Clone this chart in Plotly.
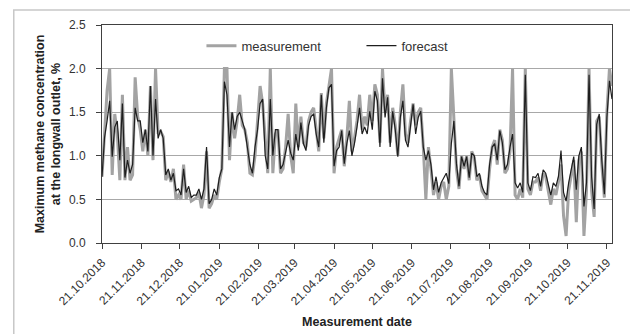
import pandas as pd
import plotly.graph_objects as go

start_date = "2018-10-21"
step_days = 2

forecast = [
    0.76, 1.21, 1.40, 1.63, 0.99, 1.33, 1.40, 0.95, 1.60, 0.75,
    0.95, 0.80, 0.90, 1.55, 1.40, 1.40, 1.15, 1.30, 1.05, 1.80,
    1.00, 1.65, 1.20, 1.30, 1.20, 0.78, 0.85, 0.72, 0.80, 0.60,
    0.62, 0.55, 0.85, 0.58, 0.65, 0.52, 0.55, 0.55, 0.62, 0.50,
    0.62, 1.10, 0.45, 0.50, 0.62, 0.55, 0.75, 0.85, 1.85, 1.70,
    1.10, 1.50, 1.30, 1.45, 1.50, 1.40, 1.30, 1.10, 0.90, 0.80,
    1.10, 1.30, 1.60, 1.65, 1.00, 0.85, 1.65, 1.00, 1.30, 1.30,
    0.85, 0.90, 1.06, 1.18, 1.03, 0.95, 1.25, 1.06, 1.38, 1.14,
    1.06, 1.35, 1.45, 1.48, 1.25, 1.10, 1.70, 1.15, 1.55, 1.78,
    1.82, 0.88, 1.06, 1.10, 1.29, 0.91, 1.14, 1.29, 1.00, 1.14,
    1.33, 1.55, 1.25, 1.33, 1.25, 1.51, 1.30, 1.74, 1.63, 1.10,
    1.89, 1.44, 1.67, 1.10, 1.51, 1.30, 0.99, 1.44, 1.63, 1.18,
    1.10, 1.32, 1.59, 1.25, 1.44, 1.51, 1.10, 0.95, 1.06, 0.90,
    0.61, 0.76, 0.58, 0.69, 0.75, 0.80, 0.68, 1.14, 1.40, 0.91,
    0.65, 0.99, 0.88, 0.99, 0.75, 1.03, 1.00, 0.76, 0.80, 0.65,
    0.58, 0.55, 0.90, 1.10, 1.14, 0.95, 1.29, 1.15, 0.84, 0.90,
    1.10, 1.25, 0.69, 0.63, 0.69, 0.58, 1.93, 0.69, 0.60, 0.76,
    0.75, 0.80, 0.65, 0.84, 0.80, 0.69, 0.55, 0.69, 0.65, 0.76,
    1.06, 0.58, 0.48, 0.69, 0.85, 0.99, 0.61, 1.00, 1.10, 0.42,
    0.69, 1.93, 0.76, 0.39, 1.36, 1.48, 0.95, 0.56, 1.44, 1.86,
    1.65,
]

measurement = [
    0.76, 1.25, 1.75, 2.00, 0.78, 1.48, 1.25, 0.72, 1.70, 0.72,
    1.10, 0.72, 0.78, 1.90, 1.45, 1.30, 1.05, 1.30, 1.00, 1.80,
    0.95, 2.00, 1.25, 1.28, 1.22, 0.72, 0.82, 0.70, 0.85, 0.50,
    0.55, 0.50, 0.90, 0.50, 0.60, 0.48, 0.50, 0.52, 0.58, 0.40,
    0.55, 1.05, 0.40, 0.45, 0.55, 0.50, 0.70, 0.85, 2.00, 2.00,
    0.95, 1.50, 1.20, 1.40, 1.70, 1.35, 1.30, 1.15, 0.80, 0.78,
    1.00, 1.40, 1.80, 1.60, 1.20, 0.80, 2.00, 0.80, 1.25, 1.30,
    0.80, 0.85, 1.10, 1.48, 1.00, 0.80, 1.60, 1.10, 1.45, 1.15,
    1.10, 1.40, 1.50, 1.55, 1.30, 1.05, 1.72, 1.20, 1.60, 1.80,
    2.00, 0.80, 1.10, 1.20, 1.30, 0.88, 1.20, 1.63, 1.05, 1.20,
    1.40, 1.70, 1.30, 1.45, 1.35, 1.70, 1.40, 1.82, 1.70, 1.15,
    2.00, 1.50, 1.70, 1.15, 1.55, 1.35, 1.00, 1.50, 1.82, 1.25,
    1.15, 1.40, 1.60, 1.35, 1.50, 1.55, 1.10, 0.50, 1.10, 0.85,
    0.55, 0.70, 0.50, 0.65, 0.70, 0.50, 0.65, 2.00, 1.35, 0.85,
    0.62, 1.00, 0.85, 1.00, 0.72, 1.05, 0.98, 0.72, 0.78, 0.60,
    0.55, 0.50, 0.85, 1.10, 1.18, 0.90, 1.30, 1.18, 0.80, 0.85,
    1.05, 2.00, 0.55, 0.50, 0.62, 0.52, 2.00, 0.62, 0.55, 0.70,
    0.70, 0.75, 0.60, 0.80, 0.76, 0.61, 0.44, 0.62, 0.55, 0.70,
    0.90, 0.31, 0.08, 0.60, 0.80, 0.95, 0.24, 0.95, 1.05, 0.08,
    0.60, 2.00, 0.60, 0.30, 1.40, 1.45, 0.90, 0.52, 1.50, 2.00,
    1.80,
]

tick_dates = ["2018-10-21", "2018-11-21", "2018-12-21", "2019-01-21",
              "2019-02-21", "2019-03-21", "2019-04-21", "2019-05-21",
              "2019-06-21", "2019-07-21", "2019-08-21", "2019-09-21",
              "2019-10-21", "2019-11-21"]
tick_labels = ["21.10.2018", "21.11.2018", "21.12.2018", "21.01.2019",
               "21.02.2019", "21.03.2019", "21.04.2019", "21.05.2019",
               "21.06.2019", "21.07.2019", "21.08.2019", "21.09.2019",
               "21.10.2019", "21.11.2019"]
y_ticks = [0.0, 0.5, 1.0, 1.5, 2.0, 2.5]
x_end = "2019-11-25"

dates = pd.date_range(start_date, periods=len(forecast), freq=f"{step_days}D")

fig = go.Figure()
fig.add_trace(go.Scatter(x=dates, y=measurement, mode="lines", name="measurement",
                         line=dict(color="#a3a3a3", width=3)))
fig.add_trace(go.Scatter(x=dates, y=forecast, mode="lines", name="forecast",
                         line=dict(color="#1e1e1e", width=1.2)))

font_family = "Liberation Sans, Arial, sans-serif"
fig.update_layout(
    width=630, height=334,
    margin=dict(l=102, r=18, t=25, b=91),
    paper_bgcolor="white", plot_bgcolor="white",
    font=dict(family=font_family, size=12, color="#333333"),
    showlegend=True,
    legend=dict(orientation="h", x=0.195, y=0.905, xanchor="left", yanchor="middle",
                bgcolor="rgba(0,0,0,0)", font=dict(size=13, color="#333333"),
                entrywidth=115, entrywidthmode="pixels"),
    shapes=[dict(type="rect", xref="paper", yref="paper",
                 x0=-0.173, x1=1.5, y0=-1.0, y1=1.069,
                 line=dict(color="#c8c8c8", width=1.5), layer="below")],
)
fig.update_xaxes(
    range=[start_date, x_end], automargin=False,
    tickvals=tick_dates, ticktext=tick_labels, tickangle=-45,
    ticks="outside", ticklen=5, tickcolor="#404040",
    showline=True, linecolor="#404040", linewidth=1, mirror=True,
    showgrid=False, zeroline=False,
    tickfont=dict(size=12, color="#333333"),
    ticklabelstandoff=2,
    title=dict(text="<b>Measurement date</b>", font=dict(size=12.5, color="#222222"), standoff=10),
)
fig.update_yaxes(
    range=[0, 2.5], automargin=False, tickvals=y_ticks, tickformat=".1f",
    ticks="outside", ticklen=5, tickcolor="#404040",
    showline=True, linecolor="#404040", linewidth=1, mirror=True,
    showgrid=True, gridcolor="#a8a8a8", gridwidth=1, zeroline=False,
    tickfont=dict(size=12, color="#333333"),
    ticklabelstandoff=8,
    title=dict(text="<b>Maximum methane concentration<br>at the longwall outlet, %</b>",
               font=dict(size=12.5, color="#222222"), standoff=5),
)

fig.write_html("out.html")
